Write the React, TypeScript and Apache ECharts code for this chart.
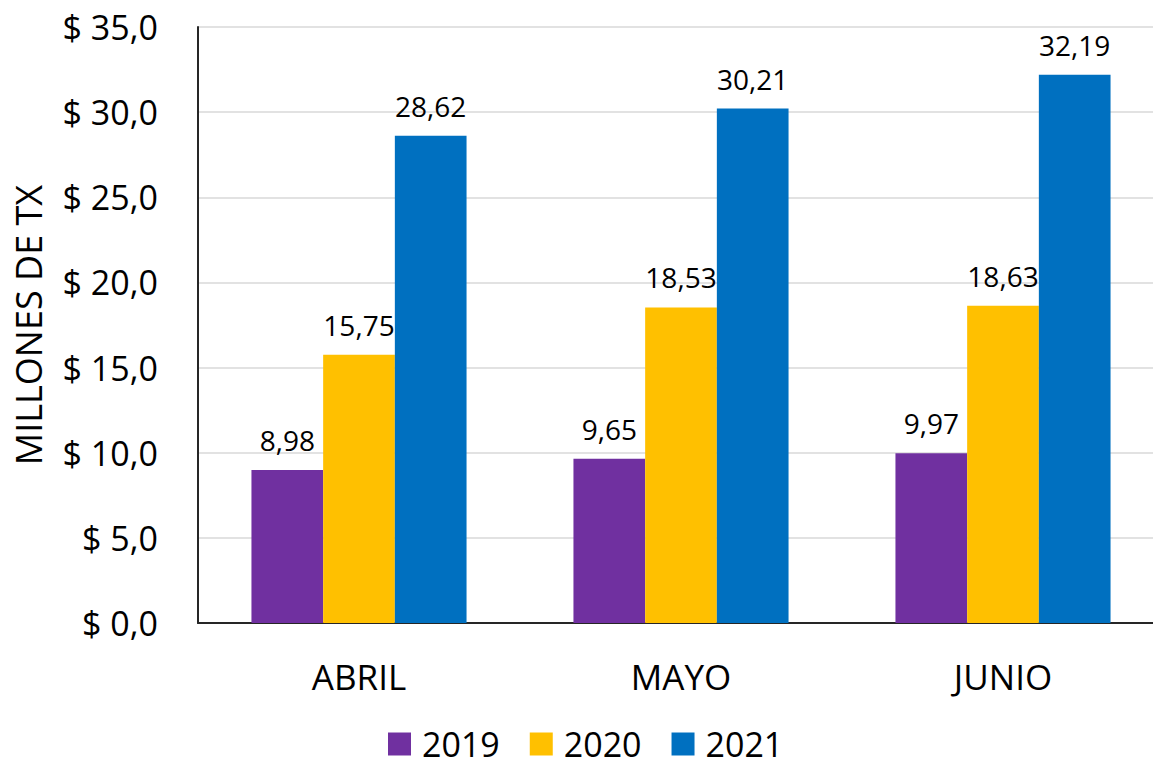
import React, { useEffect, useRef } from "react";
import * as echarts from "echarts";

const categories = ["ABRIL", "MAYO", "JUNIO"];
const seriesNames = ["2019", "2020", "2021"];
const values2019 = [8.98, 9.65, 9.97];
const values2020 = [15.75, 18.53, 18.63];
const values2021 = [28.62, 30.21, 32.19];
const colors = ["#7030A0", "#FFC000", "#0070C0"];
const yTicks = { min: 0, max: 35, interval: 5 };

const FONT = "'Open Sans', 'Noto Sans', sans-serif";

export default function App() {
  const ref = useRef<HTMLDivElement>(null);
  useEffect(() => {
    document.body.style.margin = "0";
    const chart = echarts.init(ref.current!, null, { renderer: "svg" });
    const data = [values2019, values2020, values2021];
    chart.setOption({
      animation: false,
      textStyle: { fontFamily: FONT },
      grid: { left: 198, right: -11, top: 27, bottom: 143, outerBoundsMode: "none" },
      legend: {
        bottom: 0,
        left: 383,
        itemWidth: 23,
        itemHeight: 23,
        itemGap: 30,
        icon: "rect",
        textStyle: {
          fontSize: 34,
          lineHeight: 30,
          color: "#000",
          fontFamily: FONT,
          padding: [0, 0, 0, 6],
        },
        data: seriesNames,
      },
      xAxis: {
        type: "category",
        data: categories,
        axisLine: { lineStyle: { color: "#262626", width: 2 } },
        axisTick: { show: false },
        axisLabel: { fontSize: 35, color: "#000", margin: 36, fontFamily: FONT },
      },
      yAxis: {
        type: "value",
        min: yTicks.min,
        max: yTicks.max,
        interval: yTicks.interval,
        name: "MILLONES DE TX",
        nameLocation: "middle",
        nameRotate: 90,
        nameGap: 152,
        nameTextStyle: { fontSize: 36, color: "#000", fontFamily: FONT },
        axisLine: { show: true, lineStyle: { color: "#262626", width: 2 } },
        axisTick: { show: false },
        splitLine: { lineStyle: { color: "#D9D9D9", width: 1.5 } },
        axisLabel: {
          fontSize: 34,
          color: "#000",
          margin: 40,
          fontFamily: FONT,
          formatter: (v: number) => "$ " + v.toFixed(1).replace(".", ","),
        },
      },
      series: seriesNames.map((name, i) => ({
        name,
        type: "bar",
        data: data[i],
        itemStyle: { color: colors[i] },
        barGap: "0%",
        barCategoryGap: "33.2%",
        label: {
          show: true,
          position: "top",
          distance: 16,
          fontSize: 28,
          color: "#000",
          fontFamily: FONT,
          formatter: (p: any) => p.value.toFixed(2).replace(".", ","),
        },
      })),
    });
    return () => chart.dispose();
  }, []);
  return <div ref={ref} style={{ width: 1153, height: 766 }} />;
}
